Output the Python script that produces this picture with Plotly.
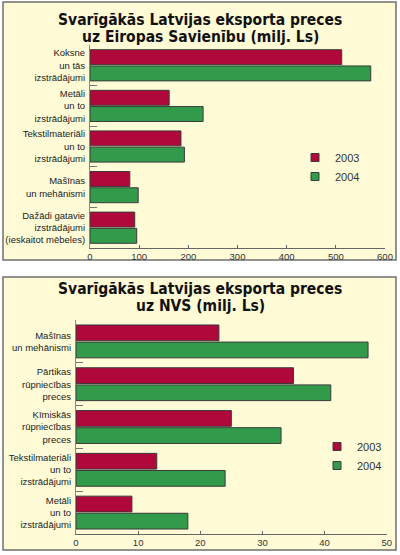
import plotly.graph_objects as go

# Data - top panel (EU), values in milj. Ls
eu_categories = [
    "Koksne<br>un tās<br>izstrādājumi",
    "Metāli<br>un to<br>izstrādājumi",
    "Tekstilmateriāli<br>un to<br>izstrādājumi",
    "Mašīnas<br>un mehānismi",
    "Dažādi gatavie<br>izstrādājumi<br>(ieskaitot mēbeles)",
]
eu_2003 = [512, 161, 185, 81, 91]
eu_2004 = [571, 230, 192, 98, 95]

# Data - bottom panel (NVS / CIS)
cis_categories = [
    "Mašīnas<br>un mehānismi",
    "Pārtikas<br>rūpniecības<br>preces",
    "Ķīmiskās<br>rūpniecības<br>preces",
    "Tekstilmateriāli<br>un to<br>izstrādājumi",
    "Metāli<br>un to<br>izstrādājumi",
]
cis_2003 = [23, 35, 25, 13, 9]
cis_2004 = [47, 41, 33, 24, 18]

years = ["2003", "2004"]
eu_titles = ["Svarīgākās Latvijas eksporta preces", "uz Eiropas Savienību (milj. Ls)"]
cis_titles = ["Svarīgākās Latvijas eksporta preces", "uz NVS (milj. Ls)"]

RED = "#B0083A"
GREEN = "#329B4B"
EDGE = "#3a3a3a"
PANEL = "#FFFBD6"
TEXT = "#222222"
W, H = 400, 555

fig = go.Figure()

# bars
for vals, col, yr in [(eu_2003, RED, years[0]), (eu_2004, GREEN, years[1])]:
    fig.add_trace(go.Bar(x=vals, y=eu_categories, orientation="h", marker_color=col,
                         marker_line=dict(color=EDGE, width=1), name=yr,
                         showlegend=False, xaxis="x", yaxis="y"))
for vals, col, yr in [(cis_2003, RED, years[0]), (cis_2004, GREEN, years[1])]:
    fig.add_trace(go.Bar(x=vals, y=cis_categories, orientation="h", marker_color=col,
                         marker_line=dict(color=EDGE, width=1), name=yr,
                         showlegend=False, xaxis="x2", yaxis="y2"))

# small square legend entries (one legend per panel)
for leg, xa, ya in [("legend", "x", "y"), ("legend2", "x2", "y2")]:
    for col, yr in [(RED, years[0]), (GREEN, years[1])]:
        fig.add_trace(go.Scatter(x=[None], y=[None], mode="markers", name=yr,
                                 marker=dict(symbol="square", size=8, color=col,
                                             line=dict(color=EDGE, width=1)),
                                 legend=leg, xaxis=xa, yaxis=ya))

def px_x(p):
    return p / W

def px_y(p):
    return 1 - p / H

# beige panels
for top, bot in [(2, 260), (277, 550)]:
    fig.add_shape(type="rect", xref="paper", yref="paper",
                  x0=px_x(3), x1=px_x(396), y0=px_y(bot), y1=px_y(top),
                  fillcolor=PANEL, line=dict(color="#707070", width=1.5), layer="below")

# titles (one annotation per line for tight leading)
title_font = dict(family="DejaVu Sans Condensed, Liberation Sans, sans-serif",
                  size=15.5, color="#111111", weight="bold")
for lines, ys in [(eu_titles, [20, 37]), (cis_titles, [289, 306])]:
    for txt, yy in zip(lines, ys):
        fig.add_annotation(text=txt, xref="paper", yref="paper", x=0.5, y=px_y(yy),
                           xanchor="center", yanchor="middle", showarrow=False,
                           font=title_font)

label_font = dict(family="Liberation Sans, Arial, sans-serif", size=9.5, color=TEXT)
tick_font = dict(family="Liberation Sans, Arial, sans-serif", size=9.5, color="#333333")

yax_common = dict(autorange="reversed", tickson="boundaries", ticks="inside", ticklen=7,
                  tickcolor="#777777", showline=True, linecolor="#888888", linewidth=1,
                  showgrid=False, zeroline=False, tickfont=label_font, categoryorder="array",
                  automargin=False, ticklabelstandoff=2)
xax_common = dict(ticks="inside", ticklen=3, tickcolor="#666666", showline=True,
                  linecolor="#666666", linewidth=1, showgrid=False, zeroline=False,
                  tickfont=tick_font, automargin=False)

fig.update_layout(
    width=W, height=H,
    margin=dict(l=0, r=0, t=0, b=0),
    paper_bgcolor="white",
    plot_bgcolor="rgba(0,0,0,0)",
    barmode="group",
    bargap=0.2,
    bargroupgap=0.08,
    xaxis=dict(domain=[px_x(90), px_x(385)], range=[0, 600], dtick=100, anchor="y", **xax_common),
    yaxis=dict(domain=[px_y(248), px_y(45)], anchor="x", categoryarray=eu_categories, **yax_common),
    xaxis2=dict(domain=[px_x(76), px_x(386.7)], range=[0, 50], dtick=10, anchor="y2", **xax_common),
    yaxis2=dict(domain=[px_y(534), px_y(320)], anchor="x2", categoryarray=cis_categories, **yax_common),
    legend=dict(x=px_x(295), y=px_y(143), xanchor="left", yanchor="top",
                bgcolor="rgba(0,0,0,0)", font=dict(family="Liberation Sans, Arial, sans-serif",
                                                  size=11, color="#333333")),
    legend2=dict(x=px_x(317), y=px_y(432), xanchor="left", yanchor="top",
                 bgcolor="rgba(0,0,0,0)", font=dict(family="Liberation Sans, Arial, sans-serif",
                                                   size=11, color="#333333")),
)

# the default page has an 8px body margin; drop it so the 400x555 figure fills the window
fig.write_html("out.html", config={"displayModeBar": False},
               post_script="document.body.style.margin='0';")
